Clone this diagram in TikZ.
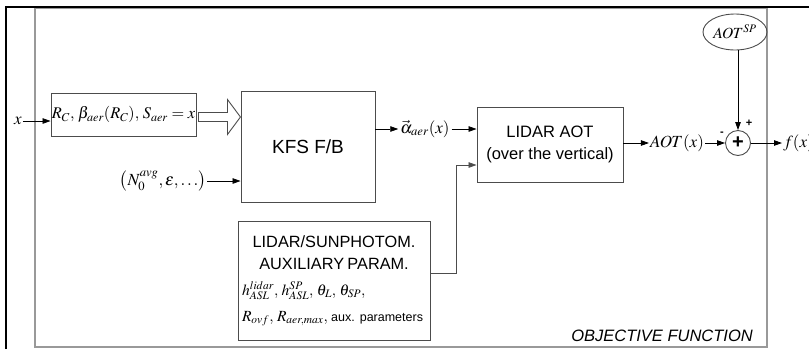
\documentclass[tikz,border=0pt]{standalone}
\usepackage{mathptmx}
\usepackage[no-math]{fontspec}
\setmainfont{Liberation Serif}
\setsansfont{Liberation Sans}
\usetikzlibrary{arrows.meta,shapes.geometric,positioning,calc}

\begin{document}
\begin{tikzpicture}[x=1pt,y=-1pt,
  blk/.style={draw=black!70,line width=0.9pt,inner sep=0pt},
  conn/.style={line width=0.8pt,-{Triangle[length=8pt,width=5.5pt]}},
  lbl/.style={inner sep=1pt,font=\fontsize{17}{19}\selectfont}]
  \useasboundingbox (0,0) rectangle (809,349);
  \draw[black!40,line width=1.2pt] (35,8) rectangle (767,347);
  \draw[line width=2.5pt] (6,349) -- (6,7) -- (809,7);

  \node[lbl] (xin) at (18,121) {$x$};
  \node[blk,minimum width=145pt,minimum height=43pt,font=\fontsize{16.3}{19}\selectfont] (param) at (123.5,114.5)
    {$R_C,\, \beta_{aer}(R_C),\, S_{aer} = x$};
  \draw[conn] (xin) -- (xin -| param.west);

  \node[blk,minimum width=134pt,minimum height=111pt,font=\sffamily\fontsize{19}{22}\selectfont] (kfs) at (308,146.5) {KFS F/B};
  \coordinate (ha) at ([xshift=2pt,yshift=-2.5pt]param.east);
  \draw[black!70,line width=0.9pt,fill=white] (ha) ++(0,-4.5) -- ++(29,0) -- ++(0,-13) -- ++(13,17.5)
    -- ++(-13,17.5) -- ++(0,-13) -- ++(-29,0) -- cycle;

  \node[lbl] (nzero) at (163,181) {$\left(N_0^{avg},\varepsilon,\ldots\right)$};
  \draw[conn] (nzero) -- (nzero -| kfs.west);

  \node[lbl,inner sep=2pt] (alpha) at (425,129) {$\vec{\alpha}_{aer}(x)$};
  \node[blk,minimum width=146pt,minimum height=75pt,align=center,font=\sffamily\fontsize{16.5}{22}\selectfont] (lidar) at (550,144.5)
    {LIDAR AOT\\(over the vertical)};
  \draw[conn] (alpha -| kfs.east) -- (alpha);
  \draw[conn] (alpha) -- (alpha -| lidar.west);

  \node[blk,minimum width=192pt,minimum height=119pt,text width=184pt] (aux) at (334,280.5)
    {\centering\sffamily\fontsize{16.3}{22}\selectfont LIDAR/SUNPHOTOM.\\AUXILIARY PARAM.\par
     \raggedright\rmfamily\fontsize{15.5}{26}\selectfont
     $h^{lidar}_{ASL},\, h^{SP}_{ASL},\, \theta_L,\, \theta_{SP},$\\
     $R_{ovf},\, R_{aer,max},$ {\sffamily\fontsize{12.5}{14}\selectfont aux. parameters}\par};
  \draw[conn,black!70] ([yshift=7.5pt]aux.east) -- ++(26,0) |- ([yshift=-20.5pt]lidar.west);

  \node[lbl] (aot) at (677,143) {$AOT(x)$};
  \node[circle,draw=black!70,line width=0.9pt,minimum size=25pt,inner sep=0pt,font=\sffamily\bfseries\fontsize{20}{20}\selectfont] (sum) at (738,143) {+};
  \node[ellipse,draw=black!70,line width=0.9pt,minimum width=64pt,minimum height=36pt,inner sep=0pt,font=\fontsize{15.5}{17}\selectfont] (sp) at (735,32) {$AOT^{SP}$};
  \draw[conn] (aot -| lidar.east) -- (aot);
  \draw[conn] (aot) -- (sum);
  \draw[conn] (sum.north |- sp.south) -- (sum.north);
  \node[font=\sffamily\bfseries\fontsize{11}{11}\selectfont] (plus) at (749,123) {+};
  \node[font=\sffamily\bfseries\fontsize{11}{11}\selectfont] (minus) at (722,134) {-};

  \node[lbl,anchor=west] (fx) at (782,143) {$f(x)$};
  \draw[conn] (sum) -- (fx);

  \node[anchor=base east,inner sep=0pt,font=\sffamily\itshape\fontsize{16.5}{18}\selectfont] (objf) at (753,341) {OBJECTIVE FUNCTION};
\end{tikzpicture}
\end{document}
